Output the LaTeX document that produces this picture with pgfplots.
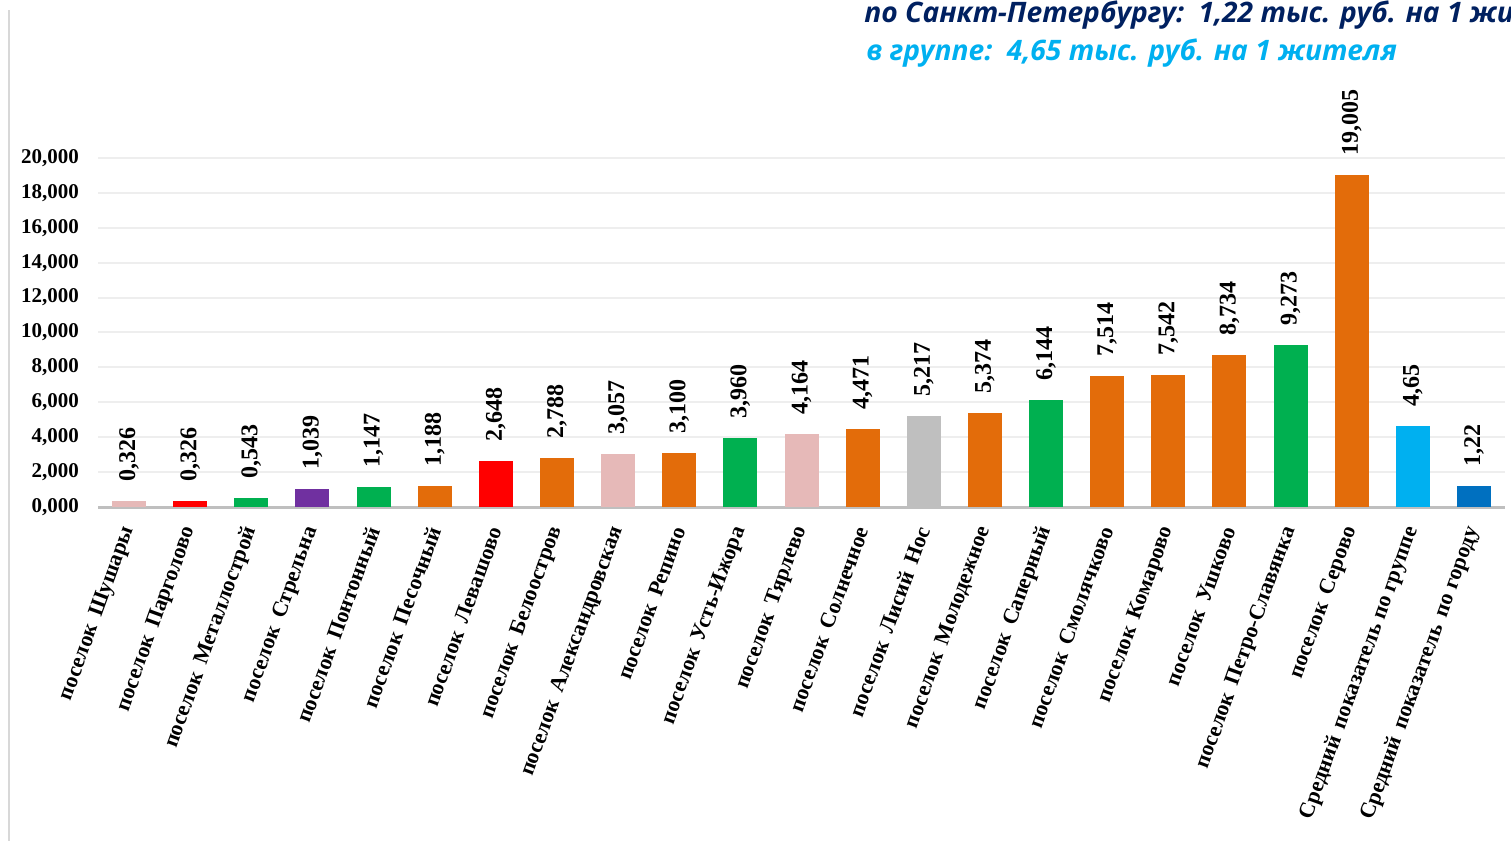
\documentclass[border=0pt]{standalone}
\usepackage{pgfplots}
\pgfplotsset{compat=1.18}
\usepackage{fontspec}
\setmainfont{Liberation Serif}
\newfontfamily\titlefont{Open Sans}
\definecolor{pinkc}{HTML}{E6B9B8}
\definecolor{redc}{HTML}{FF0000}
\definecolor{greenc}{HTML}{00B050}
\definecolor{purplec}{HTML}{7030A0}
\definecolor{orangec}{HTML}{E36C0A}
\definecolor{grayc}{HTML}{BFBFBF}
\definecolor{lbluec}{HTML}{00B0F0}
\definecolor{dbluec}{HTML}{0070C0}
\definecolor{navyc}{HTML}{002060}
\definecolor{gridc}{HTML}{EEEEEE}
\newcommand{\wsp}{\ \,}
\begin{document}
\begin{tikzpicture}
\draw[color=gridc!80!gray, line width=1pt] (4.5pt,0pt) -- (4.5pt,415.5pt);
\begin{axis}[
  at={(49.25pt,167pt)}, anchor=south west,
  scale only axis, width=703pt, height=174.5pt,
  xmin=-0.5, xmax=22.5, ymin=0, ymax=20,
  ybar, bar width=17pt, bar shift=0pt,
  axis x line=bottom, axis y line=left,
  x axis line style={draw=grayc, line width=1.5pt, -},
  y axis line style={draw=none},
  major tick style={draw=none},
  ymajorgrids, grid style={color=gridc, line width=1pt},
  ytick={0,2,...,20},
  xtick={0,...,22},
  /pgf/number format/.cd, fixed, fixed zerofill, precision=3, use comma, 1000 sep={}, assume math mode=true,
  /pgfplots/.cd,
  yticklabel style={font=\bfseries\fontsize{10.5}{12}\selectfont, anchor=east, inner sep=0pt, xshift=-7.5pt},
  xticklabel style={font=\bfseries\fontsize{11}{12}\selectfont, anchor=east, inner sep=0pt, yshift=-8pt, rotate=70},
  xticklabels={поселок\wsp Шушары, поселок\wsp Парголово, поселок\wsp Металлострой, поселок\wsp Стрельна, поселок\wsp Понтонный, поселок\wsp Песочный, поселок\wsp Левашово, поселок\wsp Белоостров, поселок\wsp Александровская, поселок\wsp Репино, поселок\wsp Усть-Ижора, поселок\wsp Тярлево, поселок\wsp Солнечное, поселок\wsp Лисий\wsp Нос, поселок\wsp Молодежное, поселок\wsp Саперный, поселок\wsp Смолячково, поселок\wsp Комарово, поселок\wsp Ушково, поселок\wsp Петро-Славянка, поселок\wsp Серово, Средний\wsp показатель по группе, Средний\wsp показатель\wsp по городу},
  nodes near coords,
  every node near coord/.append style={font=\bfseries\fontsize{12}{12}\selectfont, text=black, rotate=90, anchor=west, inner ysep=0pt, inner xsep=9.5pt},
  clip=false,
]
\addplot[fill=pinkc, draw=none] coordinates {(0,0.326)};
\addplot[fill=redc, draw=none] coordinates {(1,0.326)};
\addplot[fill=greenc, draw=none] coordinates {(2,0.543)};
\addplot[fill=purplec, draw=none] coordinates {(3,1.039)};
\addplot[fill=greenc, draw=none] coordinates {(4,1.147)};
\addplot[fill=orangec, draw=none] coordinates {(5,1.188)};
\addplot[fill=redc, draw=none] coordinates {(6,2.648)};
\addplot[fill=orangec, draw=none] coordinates {(7,2.788)};
\addplot[fill=pinkc, draw=none] coordinates {(8,3.057)};
\addplot[fill=orangec, draw=none] coordinates {(9,3.100)};
\addplot[fill=greenc, draw=none] coordinates {(10,3.960)};
\addplot[fill=pinkc, draw=none] coordinates {(11,4.164)};
\addplot[fill=orangec, draw=none] coordinates {(12,4.471)};
\addplot[fill=grayc, draw=none] coordinates {(13,5.217)};
\addplot[fill=orangec, draw=none] coordinates {(14,5.374)};
\addplot[fill=greenc, draw=none] coordinates {(15,6.144)};
\addplot[fill=orangec, draw=none] coordinates {(16,7.514)};
\addplot[fill=orangec, draw=none] coordinates {(17,7.542)};
\addplot[fill=orangec, draw=none] coordinates {(18,8.734)};
\addplot[fill=greenc, draw=none] coordinates {(19,9.273)};
\addplot[fill=orangec, draw=none] coordinates {(20,19.005)};
\addplot[fill=lbluec, draw=none, /pgf/number format/precision=2] coordinates {(21,4.65)};
\addplot[fill=dbluec, draw=none, /pgf/number format/precision=2] coordinates {(22,1.22)};
\end{axis}
\node[anchor=base west, inner sep=0pt, text=navyc, font=\titlefont\bfseries\itshape\fontsize{14.1}{16}\selectfont] at (432pt,409pt) {по Санкт-Петербургу:\ \ 1,22 тыс. руб. на 1 жителя};
\node[anchor=base west, inner sep=0pt, text=lbluec, font=\titlefont\bfseries\itshape\fontsize{14.1}{16}\selectfont] at (433pt,390pt) {в группе:\ \ 4,65 тыс. руб. на 1 жителя};
\pgfresetboundingbox
\useasboundingbox (0pt,0pt) rectangle (755.5pt,420.5pt);
\end{tikzpicture}
\end{document}
